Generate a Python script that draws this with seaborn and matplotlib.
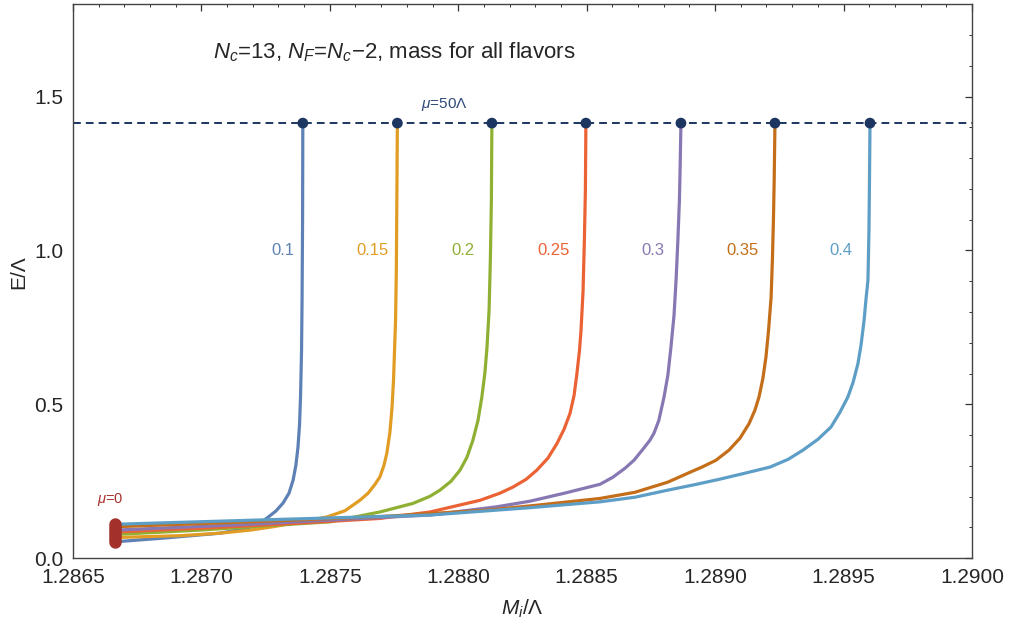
import matplotlib
matplotlib.use("Agg")
import numpy as np
import pandas as pd
import matplotlib.pyplot as plt
import seaborn as sns
from matplotlib.ticker import MultipleLocator, FormatStrFormatter

# curves, one per mass value
masses = ["0.1", "0.15", "0.2", "0.25", "0.3", "0.35", "0.4"]
colors = ["#5E81B5", "#E19C24", "#8FB032", "#EB6235", "#8778B3", "#C56E1A", "#5D9EC7"]

x_01 = [1.286664, 1.286866, 1.287072, 1.287177, 1.287220, 1.287255, 1.287290, 1.287318, 1.287341,
        1.287357, 1.287368, 1.287376, 1.287382, 1.287386, 1.287390, 1.287392, 1.287394, 1.287395]
y_01 = [0.053, 0.066, 0.081, 0.097, 0.110, 0.130, 0.153, 0.179, 0.211,
        0.253, 0.302, 0.360, 0.432, 0.523, 0.675, 0.838, 1.097, 1.414]

x_015 = [1.286664, 1.286917, 1.287072, 1.287189, 1.287279, 1.287384, 1.287489, 1.287559, 1.287617,
         1.287649, 1.287676, 1.287695, 1.287711, 1.287722, 1.287734, 1.287742, 1.287748, 1.287752,
         1.287756, 1.287759, 1.287761, 1.287763]
y_015 = [0.067, 0.073, 0.081, 0.091, 0.102, 0.117, 0.134, 0.154, 0.188,
         0.211, 0.240, 0.264, 0.302, 0.341, 0.409, 0.487, 0.578, 0.675,
         0.773, 0.935, 1.162, 1.414]

x_02 = [1.286664, 1.286994, 1.287267, 1.287501, 1.287695, 1.287824, 1.287890, 1.287929, 1.287972,
        1.288007, 1.288034, 1.288057, 1.288077, 1.288092, 1.288104, 1.288112, 1.288120, 1.288125,
        1.288129, 1.288131]
y_02 = [0.077, 0.091, 0.106, 0.118, 0.150, 0.178, 0.201, 0.221, 0.250,
        0.286, 0.328, 0.383, 0.448, 0.524, 0.604, 0.686, 0.805, 0.968,
        1.162, 1.414]

x_025 = [1.286664, 1.286994, 1.287345, 1.287695, 1.287890, 1.288085, 1.288162, 1.288213, 1.288264,
         1.288306, 1.288349, 1.288384, 1.288412, 1.288435, 1.288451, 1.288462, 1.288472, 1.288478,
         1.288486, 1.288491, 1.288495, 1.288497]
y_025 = [0.085, 0.097, 0.112, 0.129, 0.150, 0.188, 0.211, 0.231, 0.256,
         0.286, 0.325, 0.372, 0.419, 0.470, 0.529, 0.600, 0.675, 0.740,
         0.870, 1.032, 1.195, 1.414]

x_03 = [1.286664, 1.287189, 1.287695, 1.287890, 1.288151, 1.288279, 1.288408, 1.288552, 1.288602,
        1.288649, 1.288684, 1.288719, 1.288746, 1.288762, 1.288781, 1.288801, 1.288816, 1.288828,
        1.288840, 1.288848, 1.288855, 1.288861, 1.288864, 1.288867]
y_03 = [0.091, 0.110, 0.132, 0.140, 0.167, 0.185, 0.210, 0.240, 0.263,
        0.292, 0.318, 0.354, 0.383, 0.406, 0.448, 0.523, 0.594, 0.685,
        0.789, 0.903, 1.032, 1.162, 1.276, 1.414]

x_035 = [1.286664, 1.287189, 1.287695, 1.288112, 1.288306, 1.288552, 1.288688, 1.288816, 1.288902,
         1.288949, 1.289003, 1.289054, 1.289097, 1.289132, 1.289155, 1.289171, 1.289186, 1.289198,
         1.289208, 1.289218, 1.289223, 1.289227, 1.289230, 1.289233]
y_035 = [0.102, 0.118, 0.135, 0.156, 0.172, 0.194, 0.214, 0.247, 0.279,
         0.296, 0.318, 0.351, 0.390, 0.437, 0.481, 0.524, 0.584, 0.654,
         0.740, 0.848, 0.968, 1.097, 1.227, 1.414]

x_04 = [1.286664, 1.287267, 1.287890, 1.288279, 1.288552, 1.288688, 1.288816, 1.288922, 1.289015,
        1.289116, 1.289214, 1.289284, 1.289342, 1.289400, 1.289451, 1.289486, 1.289517, 1.289537,
        1.289556, 1.289568, 1.289580, 1.289587, 1.289595, 1.289599, 1.289601, 1.289603]
y_04 = [0.110, 0.125, 0.140, 0.164, 0.183, 0.198, 0.221, 0.239, 0.256,
        0.276, 0.296, 0.321, 0.351, 0.386, 0.426, 0.474, 0.524, 0.571,
        0.632, 0.692, 0.773, 0.838, 0.903, 1.065, 1.227, 1.414]

curves_x = [x_01, x_015, x_02, x_025, x_03, x_035, x_04]
curves_y = [y_01, y_015, y_02, y_025, y_03, y_035, y_04]

# where the mass labels sit
label_x = [1.287316, 1.287667, 1.288018, 1.28837, 1.288758, 1.289105, 1.28949]
label_y = 1.0

mu_inf = 1.414  # E at mu = 50 Lambda

rows = []
for m, xs, ys in zip(masses, curves_x, curves_y):
    for a, b in zip(xs, ys):
        rows.append({"mass": m, "M": a, "E": b})
df = pd.DataFrame(rows)

ends = pd.DataFrame({"M": [xs[-1] for xs in curves_x], "E": [ys[-1] for ys in curves_y]})
starts = pd.DataFrame({"M": [xs[0] for xs in curves_x], "E": [ys[0] for ys in curves_y]}).sort_values("E")

sns.set_style("white")
plt.rcParams["font.family"] = ["Liberation Sans", "DejaVu Sans"]
plt.rcParams["mathtext.fontset"] = "custom"
plt.rcParams["mathtext.rm"] = "Liberation Sans"
plt.rcParams["mathtext.it"] = "Liberation Sans:italic"

fig = plt.figure(figsize=(10.13, 6.25), dpi=100)
ax = fig.add_axes([0.072, 0.107, 0.8875, 0.886])

navy = "#1C3661"
ax.axhline(mu_inf, color=navy, lw=1.4, ls=(0, (4, 2.6)), zorder=1)

sns.lineplot(data=df, x="M", y="E", hue="mass", palette=dict(zip(masses, colors)),
             sort=False, estimator=None, units="mass", lw=2.3, legend=False, ax=ax, zorder=2)
for ln in ax.get_lines()[1:]:
    ln.set_solid_joinstyle("round")

# mu = 0 end (red) and mu = 50 Lambda end (navy dots)
ax.plot(starts["M"], starts["E"], color="#A3302B", lw=9, solid_capstyle="round", zorder=3)
sns.scatterplot(data=ends, x="M", y="E", color=navy, s=60, edgecolor="none", ax=ax, zorder=4)

for m, c, lx in zip(masses, colors, label_x):
    ax.text(lx, label_y, m, color=c, fontsize=12, ha="center", va="center")

ax.text(1.287946, 1.476, r"$\mu$=50Λ", color="#2F4A7A", fontsize=11, ha="center", va="center")
ax.text(1.286647, 0.192, r"$\mu$=0", color="#A8302E", fontsize=10.5, ha="center", va="center")
ax.text(1.28775, 1.645, r"$N_c$=13, $N_F$=$N_c$−2, mass for all flavors",
        fontsize=16, ha="center", va="center")

ax.set_xlim(1.2865, 1.2900)
ax.set_ylim(0, 1.8)
ax.xaxis.set_major_locator(MultipleLocator(0.0005))
ax.xaxis.set_minor_locator(MultipleLocator(0.0001))
ax.xaxis.set_major_formatter(FormatStrFormatter("%.4f"))
ax.yaxis.set_major_locator(MultipleLocator(0.5))
ax.yaxis.set_minor_locator(MultipleLocator(0.1))
ax.yaxis.set_major_formatter(FormatStrFormatter("%.1f"))
ax.tick_params(which="both", direction="in", top=True, right=True, color="#333333")
ax.tick_params(which="major", length=5, width=0.9, labelsize=15, pad=7)
ax.tick_params(which="minor", length=2.5, width=0.7)
for s in ax.spines.values():
    s.set_color("#444444")
    s.set_linewidth(1.0)

ax.set_xlabel(r"$M_i$/Λ", fontsize=15)
ax.set_ylabel("E/Λ", fontsize=15)
ax.xaxis.set_label_coords(0.4995, -0.071)
ax.yaxis.set_label_coords(-0.05, 0.516)

fig.savefig("out.png", dpi=100)
